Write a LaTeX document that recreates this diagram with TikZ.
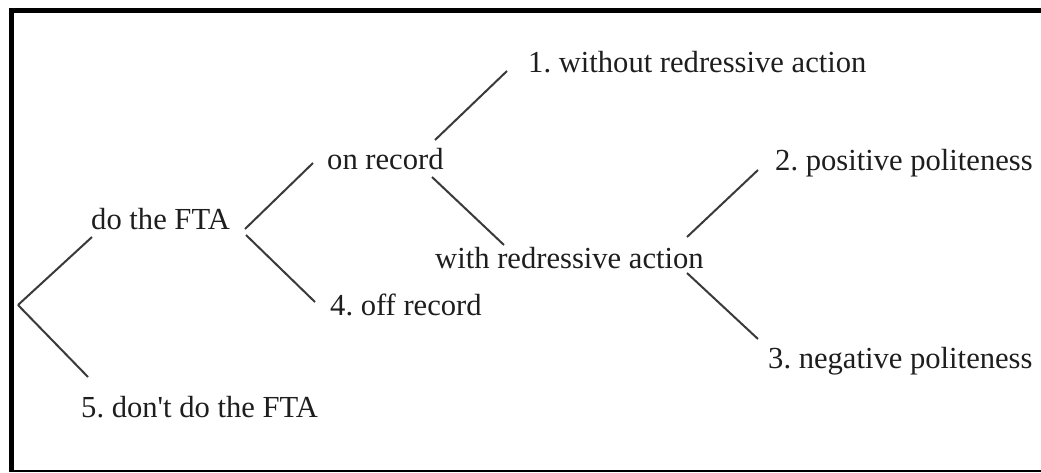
\documentclass[tikz,border=0pt]{standalone}
\usepackage{fontspec}
\setmainfont{Liberation Serif}[Ligatures=TeXOff]
\usetikzlibrary{calc}
\definecolor{ink}{HTML}{1E1E1E}
\definecolor{wire}{HTML}{3A3A3A}
\frenchspacing
\begin{document}
\begin{tikzpicture}[x=1pt,y=-1pt,
  lbl/.style={anchor=base west,inner sep=0pt,text=ink,font=\fontsize{30.6}{36}\selectfont},
  wirestyle/.style={draw=wire,line width=2pt}]
\useasboundingbox (0,0) rectangle (1041,472);
\fill[white] (0,0) rectangle (1041,472);
% frame
\draw[line width=5pt] (11.5,8) -- (11.5,472);
\draw[line width=5pt] (9,10.5) -- (1041,10.5);
\draw[line width=2pt] (9,471) -- (1041,471);
% nodes
\coordinate (root) at (18,305);
\node[lbl] (fta) at (91,229) {do the FTA};
\node[lbl] (dont) at (81,417) {5. don't do the FTA};
\node[lbl] (onrec) at (327,169) {on record};
\node[lbl] (off) at (330,315) {4. off record};
\node[lbl] (w1) at (528,72) {1. without redressive action};
\node[lbl] (wr) at (435,268) {with redressive action};
\node[lbl] (pos) at (775,170) {2. positive politeness};
\node[lbl] (neg) at (768,368) {3. negative politeness};
% connectors
\draw[wirestyle] (root) -- ([shift={(1,8)}]fta.base west);
\draw[wirestyle] (root) -- ([shift={(7,-40)}]dont.base west);
\draw[wirestyle] ([shift={(154,0)}]fta.base west) -- ([shift={(-14,-6)}]onrec.base west);
\draw[wirestyle] ([shift={(155,6)}]fta.base west) -- ([shift={(-15,-13)}]off.base west);
\draw[wirestyle] ([shift={(108,-29)}]onrec.base west) -- ([shift={(-21,-1)}]w1.base west);
\draw[wirestyle] ([shift={(105,8)}]onrec.base west) -- ([shift={(69,-23)}]wr.base west);
\draw[wirestyle] ([shift={(252,-31)}]wr.base west) -- ([shift={(-17,0)}]pos.base west);
\draw[wirestyle] ([shift={(252,5)}]wr.base west) -- ([shift={(-10,-29)}]neg.base west);
\end{tikzpicture}
\end{document}
